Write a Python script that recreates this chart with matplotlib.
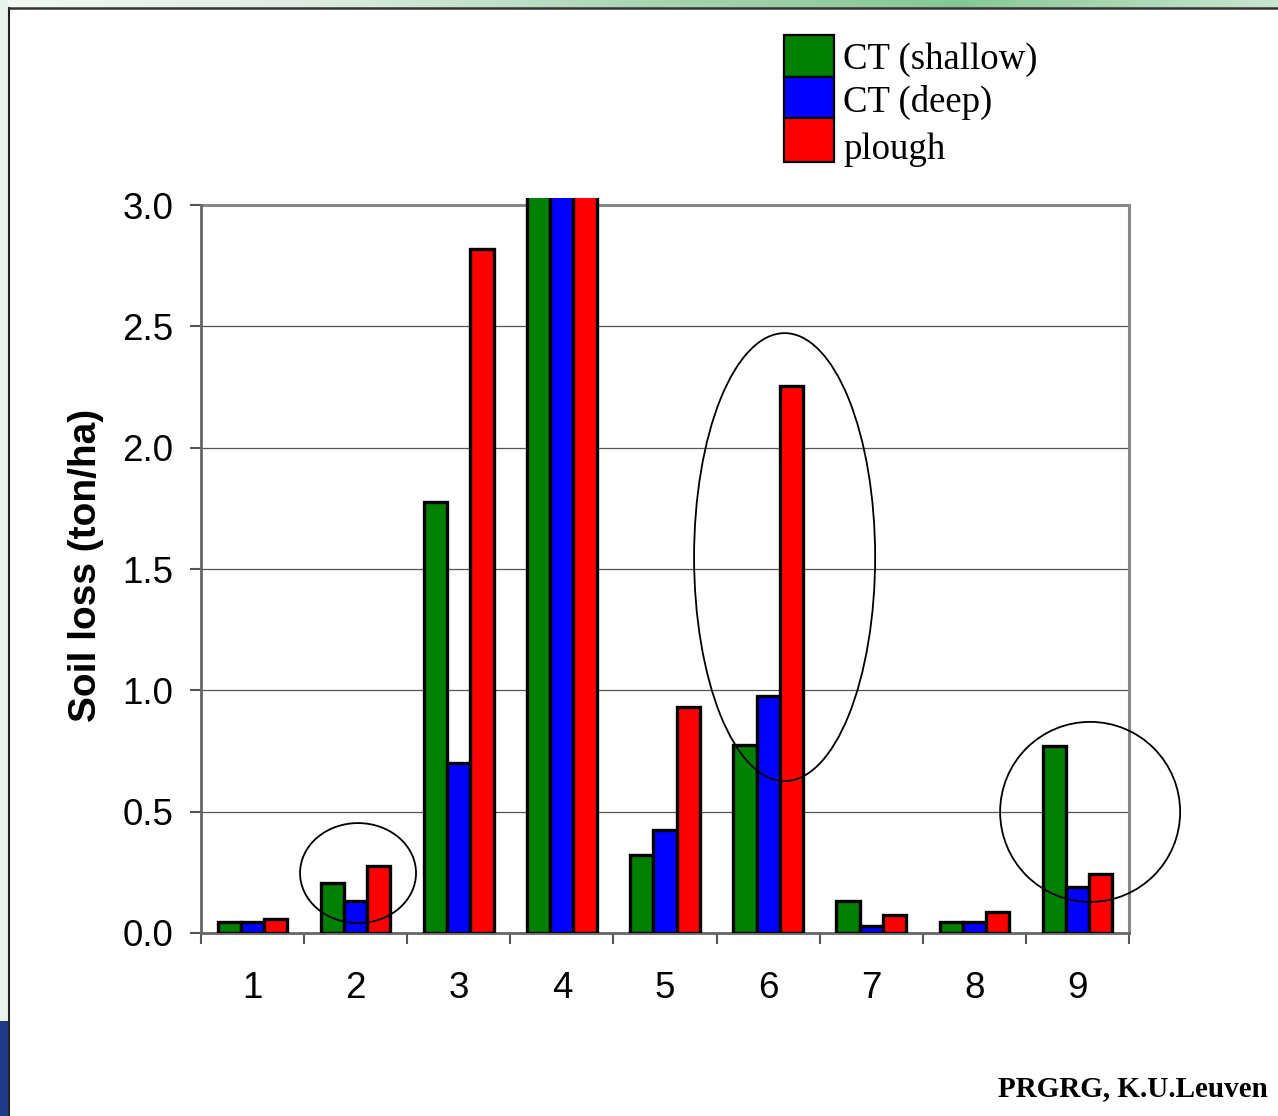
import matplotlib
matplotlib.use("Agg")
import matplotlib.pyplot as plt
import numpy as np
from matplotlib.patches import Ellipse, Rectangle
from matplotlib.lines import Line2D
from matplotlib.colors import LinearSegmentedColormap

# ---- data ----
categories = ["1", "2", "3", "4", "5", "6", "7", "8", "9"]
series_names = ["CT (shallow)", "CT (deep)", "plough"]
ct_shallow = [0.045, 0.205, 1.775, 3.5, 0.32, 0.775, 0.13, 0.045, 0.77]
ct_deep = [0.045, 0.13, 0.70, 3.5, 0.425, 0.975, 0.03, 0.045, 0.19]
plough = [0.058, 0.277, 2.82, 3.5, 0.93, 2.255, 0.074, 0.088, 0.245]
series_colors = ["#008000", "#0000FF", "#FF0000"]
y_ticks = [0.0, 0.5, 1.0, 1.5, 2.0, 2.5, 3.0]
y_label = "Soil loss (ton/ha)"
credit = "PRGRG, K.U.Leuven"

W, H = 1278, 1116
fig = plt.figure(figsize=(W / 100, H / 100), dpi=100)
fig.patch.set_facecolor("white")

# ---- slide decorations ----
grad = np.linspace(0, 1, 256)[None, :]
ax_bg = fig.add_axes([0, 1 - 8 / H, 1, 8 / H])
ax_bg.axis("off")
cm = LinearSegmentedColormap.from_list("g", ["#f2f8f3", "#dcede0", "#a9d5b3", "#86c795", "#c9e6cf"])
ax_bg.imshow(grad, aspect="auto", cmap=cm, extent=[0, 1, 0, 1])
fig.patches.append(Rectangle((0, 95 / H), 8 / W, 1 - 95 / H, transform=fig.transFigure,
                             facecolor="#e9f3eb", edgecolor="none", zorder=0))
fig.patches.append(Rectangle((0, 0), 8 / W, 95 / H, transform=fig.transFigure,
                             facecolor="#1d3a8a", edgecolor="none", zorder=0))
fig.lines.append(Line2D([8.5 / W, 8.5 / W], [0, 1 - 7.5 / H], transform=fig.transFigure,
                        color="#222222", lw=1.5, zorder=5))
fig.lines.append(Line2D([8.5 / W, 1], [1 - 7.5 / H, 1 - 7.5 / H], transform=fig.transFigure,
                        color="#333333", lw=1.8, zorder=5))

# ---- main axes ----
left_px, right_px, top_px, bot_px = 201, 1129, 198, 933
ax = fig.add_axes([left_px / W, 1 - bot_px / H, (right_px - left_px) / W, (bot_px - top_px) / H])
ymax = 3.0 * (bot_px - top_px) / (bot_px - 205)
ax.set_ylim(0, ymax)
ax.set_xlim(-0.5, len(categories) - 0.5)

x = np.arange(len(categories))
bw = 0.225
for i, (vals, col) in enumerate(zip([ct_shallow, ct_deep, plough], series_colors)):
    ax.bar(x + (i - 1) * bw, vals, width=bw, color=col, edgecolor="black",
           linewidth=2.4, zorder=3)

for yt in y_ticks[1:-1]:
    ax.axhline(yt, color="#555555", lw=0.9, zorder=1)
ax.axhline(3.0, color="#888888", lw=2.2, zorder=1)

ax.spines["top"].set_visible(False)
ax.spines["right"].set_bounds(0, 3.0)
ax.spines["right"].set_color("#888888")
ax.spines["right"].set_linewidth(2.2)
ax.spines["left"].set_bounds(0, 3.0)
ax.spines["left"].set_color("#666666")
ax.spines["left"].set_linewidth(2.0)
ax.spines["bottom"].set_color("#666666")
ax.spines["bottom"].set_linewidth(2.0)

ax.set_yticks(y_ticks)
ax.set_yticklabels([f"{v:.1f}" for v in y_ticks], fontfamily="Liberation Sans", fontsize=26.5)
ax.tick_params(axis="y", direction="out", length=8, width=1.5, color="#555555", pad=12)

ax.set_xticks(x)
ax.set_xticklabels(categories, fontfamily="Liberation Sans", fontsize=26.5)
ax.tick_params(axis="x", which="major", length=0, pad=27)
ax.set_xticks(np.arange(-0.5, len(categories)), minor=True)
ax.tick_params(axis="x", which="minor", direction="out", length=8, width=1.5, color="#555555")

ax.set_ylabel(y_label, fontfamily="Liberation Sans", fontweight="bold", fontsize=28, labelpad=13)

for (cx, cy, ew, eh) in [(1.023, 0.247, 1.125, 0.412), (5.16, 1.549, 1.756, 1.846),
                         (8.123, 0.499, 1.746, 0.742)]:
    ax.add_patch(Ellipse((cx, cy), ew, eh, facecolor="none", edgecolor="black",
                         lw=1.3, zorder=4, clip_on=False))

# ---- legend (manual) ----
box_x0, box_w = 784, 50
box_edges = [35, 77, 118, 162]
label_y = [60, 102, 150]
for i, (name, col) in enumerate(zip(series_names, series_colors)):
    y0, y1 = box_edges[i], box_edges[i + 1]
    fig.patches.append(Rectangle((box_x0 / W, 1 - y1 / H), box_w / W, (y1 - y0) / H,
                                 transform=fig.transFigure, facecolor=col,
                                 edgecolor="black", lw=1.6, zorder=6))
    fig.text(843 / W, 1 - label_y[i] / H, name, fontfamily="Liberation Serif", fontsize=26.5,
             va="center", ha="left")

fig.text(1268 / W, 1 - 1089 / H, credit, fontfamily="Liberation Serif", fontweight="bold",
         fontsize=21, ha="right", va="center")

fig.savefig("out.png", dpi=100)
